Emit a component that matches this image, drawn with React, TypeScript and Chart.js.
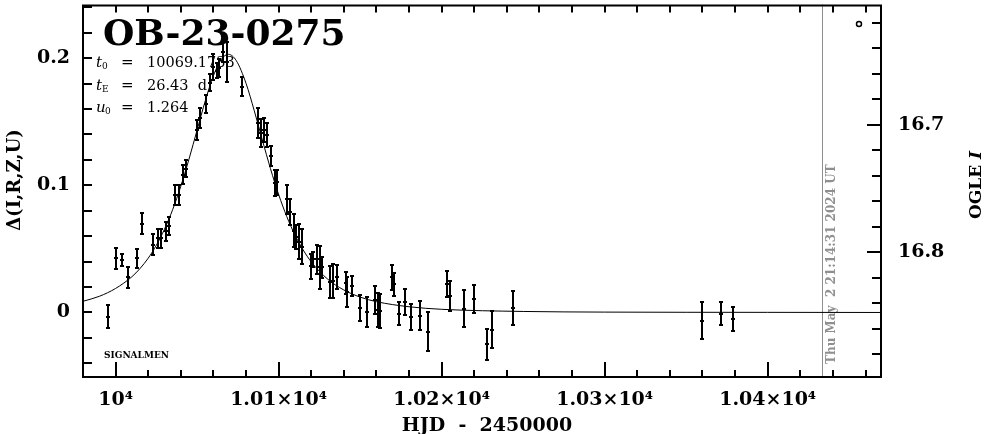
import React, { useEffect, useRef } from 'react';
import { Chart, registerables } from 'chart.js';

Chart.register(...registerables);

// ---- data ----
const obsDays = [
  9995.1, 10000.0, 10004.0, 10007.7, 10012.9, 10016.0, 10022.7, 10026.1, 10027.8, 10030.9,
  10032.9, 10036.4, 10039.0, 10041.5, 10043.1, 10049.7, 10051.7, 10055.4, 10057.9, 10059.9,
  10062.1, 10063.7, 10065.8, 10068.6, 10077.3, 10087.5, 10089.3, 10091.2, 10092.6, 10095.1,
  10097.7, 10099.1, 10105.3, 10106.9, 10109.4, 10110.6, 10112.6, 10114.1, 10119.6, 10120.9,
  10123.3, 10125.3, 10126.4, 10131.5, 10133.1, 10135.6, 10141.3, 10142.1, 10144.8, 10149.9,
  10154.0, 10159.1, 10161.1, 10162.1, 10169.3, 10170.7, 10173.8, 10177.5, 10181.0, 10186.7,
  10191.8, 10203.1, 10205.1, 10213.9, 10220.0, 10227.6, 10231.0, 10243.9, 10359.5, 10371.4,
  10378.9,
];
const obsDelta = [
  -0.0033, 0.0427, 0.041, 0.0277, 0.0425, 0.0699, 0.0534, 0.0584, 0.0584, 0.0639,
  0.0681, 0.0922, 0.0926, 0.1085, 0.1132, 0.1435, 0.1528, 0.1637, 0.1808, 0.1932,
  0.1901, 0.1925, 0.205, 0.197, 0.1777, 0.149, 0.1412, 0.1435, 0.1396, 0.1233,
  0.1016, 0.1023, 0.0891, 0.079, 0.0643, 0.0596, 0.0557, 0.0518, 0.0363, 0.0417,
  0.0417, 0.0355, 0.0355, 0.0239, 0.0246, 0.0277, 0.0231, 0.0161, 0.0208, 0.0036,
  0.0005, 0.0099, 0.0021, 0.0013, 0.0277, 0.0223, -0.001, 0.0083, -0.0033, -0.0026,
  -0.015, 0.0223, 0.013, 0.0029, 0.0106, -0.0251, -0.0134, 0.0036, -0.0064, -0.001,
  -0.0049,
];
const obsErr = [
  0.0089, 0.0082, 0.0047, 0.0084, 0.0078, 0.0085, 0.0083, 0.0074, 0.0074, 0.0074,
  0.007, 0.0078, 0.0078, 0.0078, 0.007, 0.0078, 0.0078, 0.007, 0.007, 0.0101,
  0.0058, 0.007, 0.0078, 0.016, 0.0078, 0.0117, 0.011, 0.0093, 0.0093, 0.0078,
  0.0101, 0.0101, 0.0113, 0.0101, 0.0132, 0.0093, 0.0138, 0.0136, 0.0097, 0.0058,
  0.0117, 0.0167, 0.0085, 0.0124, 0.0132, 0.0093, 0.0085, 0.0117, 0.0078, 0.0105,
  0.0117, 0.0109, 0.0136, 0.0132, 0.0097, 0.0091, 0.0091, 0.0103, 0.0103, 0.0114,
  0.0152, 0.0101, 0.0119, 0.0145, 0.0114, 0.0124, 0.0142, 0.0136, 0.0148, 0.0091,
  0.0093,
];

const modelDays = [
  9980, 9990, 10000, 10010, 10015, 10020, 10025, 10030, 10035, 10040, 10045, 10050, 10055,
  10060, 10065, 10069.17, 10074, 10080, 10085, 10090, 10095, 10100, 10105, 10110, 10115,
  10120, 10130, 10140, 10150, 10160, 10180, 10200, 10250, 10300, 10350, 10400, 10469.5,
];
const modelDelta = [
  0.0088, 0.0127, 0.0189, 0.0281, 0.0346, 0.0427, 0.0529, 0.0655, 0.0809, 0.0993, 0.1205, 0.1435, 0.1664,
  0.1862, 0.1993, 0.2030, 0.1981, 0.1802, 0.1589, 0.1357, 0.1131, 0.0928, 0.0754, 0.0610, 0.0493,
  0.0398, 0.0263, 0.0177, 0.0121, 0.0085, 0.0045, 0.0025, 0.0008, 0.0003, 0.00015, 0.0001, 0.0,
];

const ogleDays = [10456];
const ogleMags = [16.621];

const xTicks = [10000, 10100, 10200, 10300, 10400];
const yTicks = [0, 0.1, 0.2];
const magTicks = [16.7, 16.8];

const todayDay = 10433.4;
const stampText = 'Thu May  2 21:14:31 2024 UT';
const eventName = 'OB-23-0275';
const paramT0 = '10069.1733';
const paramTE = '26.43  d';
const paramU0 = '1.264';
const surveyText = 'SIGNALMEN';
const xTitle = 'HJD  -  2450000';
const yTitle = 'Δ(I,R,Z,U)';
const y2Title = 'OGLE ';
const y2TitleItalic = 'I';

const SERIF = '"DejaVu Serif", serif';

const overlayPlugin = {
  id: 'overlay',
  beforeDatasetsDraw(chart: any) {
    const { ctx, chartArea: ca, scales } = chart;
    const px = Math.round(scales.x.getPixelForValue(todayDay)) + 0.5;
    ctx.save();
    ctx.strokeStyle = '#8f8f8f';
    ctx.lineWidth = 1;
    ctx.beginPath();
    ctx.moveTo(px, ca.top - 1);
    ctx.lineTo(px, ca.bottom);
    ctx.stroke();
    ctx.translate(px + 9, ca.bottom - 13);
    ctx.rotate(-Math.PI / 2);
    ctx.fillStyle = '#8f8f8f';
    ctx.font = 'bold 12px ' + SERIF;
    ctx.textAlign = 'left';
    ctx.textBaseline = 'middle';
    ctx.fillText(stampText, 0, 0);
    ctx.restore();
  },
  afterDatasetsDraw(chart: any) {
    const { ctx, chartArea: ca, scales } = chart;
    const xs = scales.x;
    const ys = scales.y;
    const y2 = scales.y2;
    ctx.save();
    // error bars
    ctx.strokeStyle = '#000';
    ctx.lineWidth = 2;
    ctx.beginPath();
    obsDays.forEach((d, i) => {
      const px = Math.round(xs.getPixelForValue(d));
      const yt = Math.round(ys.getPixelForValue(obsDelta[i] + obsErr[i]));
      const yb = Math.round(ys.getPixelForValue(obsDelta[i] - obsErr[i]));
      const yc = Math.round(ys.getPixelForValue(obsDelta[i]));
      ctx.moveTo(px, yt);
      ctx.lineTo(px, yb);
      ctx.moveTo(px - 2, yt);
      ctx.lineTo(px + 2, yt);
      ctx.moveTo(px - 2, yb);
      ctx.lineTo(px + 2, yb);
      ctx.moveTo(px - 2, yc);
      ctx.lineTo(px + 2, yc);
    });
    ctx.stroke();

    // frame
    ctx.lineWidth = 2;
    ctx.strokeRect(ca.left, ca.top, ca.right - ca.left, ca.bottom - ca.top);

    // tick marks (inward)
    ctx.beginPath();
    for (let v = 9980; v <= 10469; v += 20) {
      const p = Math.round(xs.getPixelForValue(v));
      const major = v % 100 === 0;
      ctx.moveTo(p, ca.bottom);
      ctx.lineTo(p, ca.bottom - (major ? 15 : 7));
      ctx.moveTo(p, ca.top);
      ctx.lineTo(p, ca.top + 7);
    }
    for (let k = -2; k <= 12; k++) {
      const p = Math.round(ys.getPixelForValue(k * 0.02));
      ctx.moveTo(ca.left, p);
      ctx.lineTo(ca.left + 9, p);
    }
    for (let k = 831; k <= 844; k++) {
      const m = k * 0.02;
      const p = Math.round(y2.getPixelForValue(m));
      const major = k === 835 || k === 840;
      ctx.moveTo(ca.right, p);
      ctx.lineTo(ca.right - (major ? 14 : 9), p);
    }
    ctx.stroke();
    ctx.restore();
  },
  afterDraw(chart: any) {
    const { ctx } = chart;
    ctx.save();
    ctx.fillStyle = '#000';
    ctx.textAlign = 'left';
    ctx.textBaseline = 'alphabetic';
    // event name
    ctx.font = 'bold 36px ' + SERIF;
    ctx.fillText(eventName, 103, 45);
    // params
    const rows = [
      { sym: 't', sub: '0', val: paramT0, y: 67 },
      { sym: 't', sub: 'E', val: paramTE, y: 90 },
      { sym: 'u', sub: '0', val: paramU0, y: 112 },
    ];
    rows.forEach((r) => {
      ctx.font = 'italic 15px ' + SERIF;
      ctx.fillText(r.sym, 96, r.y);
      ctx.font = '9px ' + SERIF;
      ctx.fillText(r.sub, r.sym === 'u' ? 105 : 102, r.y + 2);
      ctx.font = '15px ' + SERIF;
      ctx.fillText('=', 121, r.y);
      ctx.font = '14.5px ' + SERIF;
      ctx.fillText(r.val, 147, r.y);
    });
    // survey
    ctx.font = 'bold 9px ' + SERIF;
    ctx.fillText(surveyText, 104, 358);
    // x title
    ctx.font = 'bold 19px ' + SERIF;
    ctx.textAlign = 'center';
    ctx.fillText(xTitle, 487, 431);
    // y title
    ctx.save();
    ctx.translate(15, 180);
    ctx.rotate(-Math.PI / 2);
    ctx.font = 'bold 18px ' + SERIF;
    ctx.textAlign = 'center';
    ctx.textBaseline = 'middle';
    ctx.fillText(yTitle, 0, 0);
    ctx.restore();
    // y2 title
    ctx.save();
    ctx.translate(977, 185);
    ctx.rotate(-Math.PI / 2);
    ctx.textBaseline = 'middle';
    ctx.textAlign = 'left';
    ctx.font = 'bold 17px ' + SERIF;
    const w1 = ctx.measureText(y2Title).width;
    ctx.font = 'bold italic 17px ' + SERIF;
    const w2 = ctx.measureText(y2TitleItalic).width;
    const start = -(w1 + w2) / 2;
    ctx.font = 'bold 17px ' + SERIF;
    ctx.fillText(y2Title, start, 0);
    ctx.font = 'bold italic 17px ' + SERIF;
    ctx.fillText(y2TitleItalic, start + w1, 0);
    ctx.restore();
    ctx.restore();
  },
};

const tickFont = { family: SERIF, size: 19, weight: 'bold' as const };

const zeroPad = (s: any) => {
  s.paddingTop = 0;
  s.paddingBottom = 0;
  s.paddingLeft = 0;
  s.paddingRight = 0;
};

export default function App() {
  const canvasRef = useRef<HTMLCanvasElement | null>(null);

  useEffect(() => {
    const canvas = canvasRef.current;
    if (!canvas) return;
    const chart = new Chart(canvas, {
      type: 'scatter',
      data: {
        datasets: [
          {
            label: 'model',
            data: modelDays.map((d, i) => ({ x: d, y: modelDelta[i] })),
            showLine: true,
            borderColor: '#000',
            borderWidth: 1,
            pointRadius: 0,
            cubicInterpolationMode: 'monotone',
            xAxisID: 'x',
            yAxisID: 'y',
          } as any,
          {
            label: 'observations',
            data: obsDays.map((d, i) => ({ x: d, y: obsDelta[i] })),
            pointRadius: 0,
            borderColor: '#000',
            backgroundColor: '#000',
            xAxisID: 'x',
            yAxisID: 'y',
          },
          {
            label: 'OGLE',
            data: ogleDays.map((d, i) => ({ x: d, y: ogleMags[i] })),
            pointRadius: 2.5,
            borderWidth: 1.5,
            borderColor: '#000',
            backgroundColor: '#fff',
            xAxisID: 'x',
            yAxisID: 'y2',
          },
        ],
      },
      options: {
        animation: false,
        responsive: false,
        devicePixelRatio: 1,
        events: [],
        layout: { padding: { top: 1, left: 0, right: 0, bottom: 0 } },
        plugins: { legend: { display: false }, tooltip: { enabled: false } },
        scales: {
          x: {
            type: 'linear',
            position: 'bottom',
            min: 9980,
            max: 10469.5,
            grid: { display: false },
            border: { display: false },
            ticks: {
              font: tickFont,
              color: '#000',
              padding: 4,
              maxRotation: 0,
              autoSkip: false,
              callback: (v: any) => (v === 10000 ? '10⁴' : (v / 10000).toFixed(2) + '×10⁴'),
            },
            afterBuildTicks: (s: any) => {
              s.ticks = xTicks.map((v) => ({ value: v }));
            },
            afterFit: (s: any) => {
              s.height = 57;
              zeroPad(s);
            },
          },
          y: {
            type: 'linear',
            position: 'left',
            min: -0.05074,
            max: 0.2414,
            grid: { display: false },
            border: { display: false },
            ticks: {
              font: tickFont,
              color: '#000',
              padding: 5,
              callback: (v: any) => (v === 0 ? '0' : Number(v).toFixed(1)),
            },
            afterBuildTicks: (s: any) => {
              s.ticks = yTicks.map((v) => ({ value: v }));
            },
            afterFit: (s: any) => {
              s.width = 83;
              zeroPad(s);
            },
          },
          y2: {
            type: 'linear',
            position: 'right',
            reverse: true,
            min: 16.6064,
            max: 16.8979,
            grid: { display: false },
            border: { display: false },
            ticks: {
              font: tickFont,
              color: '#000',
              padding: 9,
              callback: (v: any) => Number(v).toFixed(1),
            },
            afterBuildTicks: (s: any) => {
              s.ticks = magTicks.map((v) => ({ value: v }));
            },
            afterFit: (s: any) => {
              s.width = 105;
              zeroPad(s);
            },
          },
        },
      } as any,
      plugins: [overlayPlugin],
    });
    return () => chart.destroy();
  }, []);

  return (
    <div style={{ position: 'absolute', left: 0, top: 0, width: 986, height: 434, background: '#fff' }}>
      <canvas ref={canvasRef} width={986} height={434} style={{ display: 'block' }} />
    </div>
  );
}
